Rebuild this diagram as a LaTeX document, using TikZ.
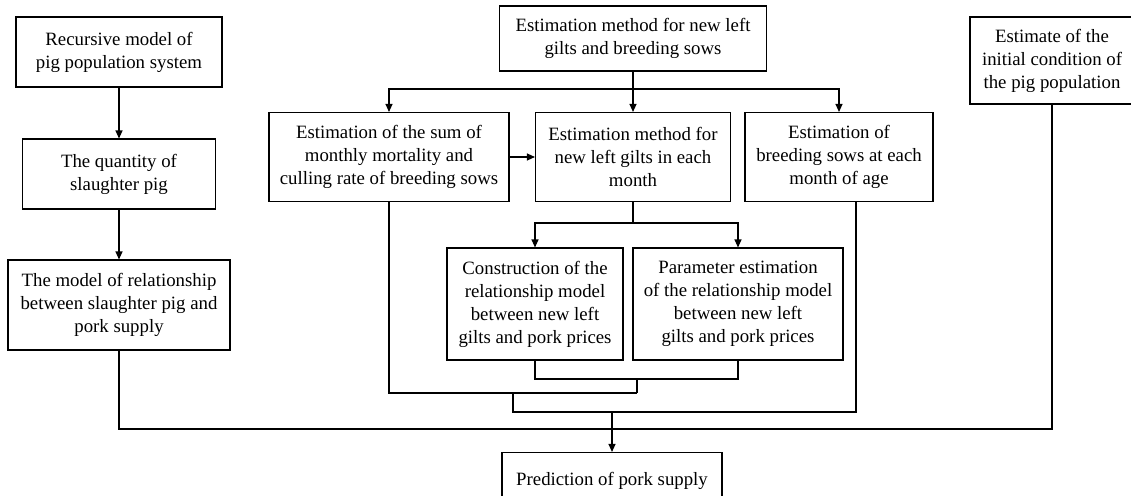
\documentclass[tikz,border=0pt]{standalone}
\usepackage{fontspec}
\setmainfont{Liberation Serif}
\usetikzlibrary{arrows.meta}
\begin{document}
\begin{tikzpicture}[x=1pt,y=-1pt,
  box/.style={draw, line width=1.1pt, align=center, inner sep=0pt,
    font=\fontsize{18.8}{23}\selectfont},
  arr/.style={-{Triangle[length=8pt,width=7pt]}},
  line width=1.1pt]
  \useasboundingbox (0,0) rectangle (1131,495);

  \node[box, minimum width=206, minimum height=70] (rec) at (119,52) {Recursive model of\\pig population system};
  \node[box, minimum width=193, minimum height=70] (qty) at (119,174) {The quantity of\\slaughter pig};
  \node[box, minimum width=222, minimum height=90] (rel) at (119,305) {The model of relationship\\between slaughter pig and\\pork supply};
  \node[box, minimum width=267, minimum height=65] (top) at (633,38.5) {Estimation method for new left\\gilts and breeding sows};
  \node[box, minimum width=240, minimum height=89] (sum) at (389,157) {Estimation of the sum of\\monthly mortality and\\culling rate of breeding sows};
  \node[box, minimum width=195, minimum height=89] (month) at (633,157) {Estimation method for\\new left gilts in each\\month};
  \node[box, minimum width=188, minimum height=89] (sows) at (839,157) {Estimation of\\breeding sows at each\\month of age};
  \node[box, minimum width=164, minimum height=87] (init) at (1052,60.5) {Estimate of the\\initial condition of\\the pig population};
  \node[box, minimum width=176, minimum height=112] (cons) at (535,304) {Construction of the\\relationship model\\between new left\\gilts and pork prices};
  \node[box, minimum width=210, minimum height=112] (param) at (738,304) {Parameter estimation\\of the relationship model\\between new left\\gilts and pork prices};
  \node[box, minimum width=220, minimum height=56] (pred) at (612,480.5) {Prediction of pork supply};

  \coordinate (j1) at (633,89);
  \coordinate (j2) at (633,223);
  \coordinate (j3) at (637,379);
  \coordinate (j4) at (637,393);
  \coordinate (j5) at (513,393);
  \coordinate (j6) at (513,412);
  \coordinate (j7) at (612,412);
  \coordinate (j8) at (612,429);
  \coordinate (s1) at (856,202);

  \draw[arr] (rec) -- (qty);
  \draw[arr] (qty) -- (rel);
  \draw[arr] (top) -- (month);
  \draw[arr] (j1) -| (sum);
  \draw[arr] (j1) -| (sows);
  \draw[arr] (sum) -- (month);
  \draw (month) -- (j2);
  \draw[arr] (j2) -| (cons);
  \draw[arr] (j2) -| (param);
  \draw (cons) |- (j3) -| (param);
  \draw (j3) -- (j4);
  \draw (sum) |- (j4);
  \draw (j5) -- (j6) -| (s1);
  \draw (rel) |- (j8) -| (init);
  \draw[arr] (j7) -- (pred);
\end{tikzpicture}
\end{document}
